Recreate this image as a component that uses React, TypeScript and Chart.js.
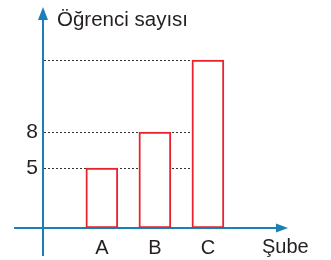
import React, { useEffect, useRef } from "react";
import { Chart, registerables } from "chart.js";

Chart.register(...registerables);

const categories = ["A", "B", "C"];
const counts = [5, 8, 14];
const yTickValues = [5, 8];
const xAxisTitle = "Şube";
const yAxisTitle = "Öğrenci sayısı";

const FONT = "'Liberation Sans', Arial, Helvetica, sans-serif";
const AXIS_COLOR = "#1b80b5";
const BAR_COLOR = "#e8232e";
const TEXT_COLOR = "#231f20";

const decorPlugin = {
  id: "decor",
  beforeDatasetsDraw(chart: any) {
    const { ctx, chartArea } = chart;
    const ys = chart.scales.y;
    const meta = chart.getDatasetMeta(0);
    const last: any = meta.data[meta.data.length - 1];
    const lastLeft = last.x - last.width / 2;
    ctx.save();
    // dotted guide lines
    ctx.strokeStyle = "#333333";
    ctx.lineWidth = 1;
    ctx.setLineDash([2, 2]);
    counts.forEach((v) => {
      const y = Math.round(ys.getPixelForValue(v)) + 0.5;
      ctx.beginPath();
      ctx.moveTo(chartArea.left + 1, y);
      ctx.lineTo(lastLeft, y);
      ctx.stroke();
    });
    ctx.setLineDash([]);
    // axes
    const ax = chartArea.left;
    const ay = chartArea.bottom;
    ctx.strokeStyle = AXIS_COLOR;
    ctx.fillStyle = AXIS_COLOR;
    ctx.lineWidth = 2;
    ctx.beginPath();
    ctx.moveTo(ax, ay + 28);
    ctx.lineTo(ax, chartArea.top - 4);
    ctx.stroke();
    ctx.beginPath();
    ctx.moveTo(ax, chartArea.top - 17);
    ctx.lineTo(ax - 5, chartArea.top - 4);
    ctx.lineTo(ax + 5, chartArea.top - 4);
    ctx.closePath();
    ctx.fill();
    ctx.beginPath();
    ctx.moveTo(ax - 29, ay);
    ctx.lineTo(chartArea.right - 12, ay);
    ctx.stroke();
    ctx.beginPath();
    ctx.moveTo(chartArea.right, ay);
    ctx.lineTo(chartArea.right - 12, ay - 4.5);
    ctx.lineTo(chartArea.right - 12, ay + 4.5);
    ctx.closePath();
    ctx.fill();
    // axis titles
    ctx.fillStyle = TEXT_COLOR;
    ctx.textBaseline = "alphabetic";
    ctx.textAlign = "left";
    ctx.font = `20.5px ${FONT}`;
    ctx.fillText(yAxisTitle, ax + 14, chartArea.top + 2);
    ctx.font = `20px ${FONT}`;
    ctx.fillText(xAxisTitle, chartArea.right - 26, ay + 25);
    ctx.restore();
  },
};

export default function App() {
  const ref = useRef<HTMLCanvasElement | null>(null);
  useEffect(() => {
    if (!ref.current) return;
    const chart = new Chart(ref.current, {
      type: "bar",
      data: {
        datasets: [
          {
            data: categories.map((c, i) => ({ x: i + 1, y: counts[i] })),
            backgroundColor: "#ffffff",
            borderColor: BAR_COLOR,
            borderWidth: 2,
            borderSkipped: false,
            barThickness: 32,
          },
        ],
      },
      options: {
        animation: false,
        responsive: true,
        maintainAspectRatio: false,
        layout: { padding: { top: 24, right: 43, left: 0, bottom: 0 } },
        plugins: { legend: { display: false }, tooltip: { enabled: false }, title: { display: false } },
        scales: {
          x: {
            type: "linear",
            offset: false,
            min: -0.11,
            max: 4.51,
            grid: { display: false, drawTicks: false, offset: false },
            border: { display: false },
            afterBuildTicks: (scale: any) => {
              scale.ticks = categories.map((_, i) => ({ value: i + 1 }));
            },
            afterFit: (scale: any) => {
              scale.height = 32;
            },
            ticks: {
              padding: 8,
              color: TEXT_COLOR,
              font: { family: FONT, size: 20 },
              maxRotation: 0,
              autoSkip: false,
              callback: (v: any) => categories[Math.round(v) - 1] ?? "",
            },
          },
          y: {
            min: 0,
            max: 17,
            grid: { display: false, drawTicks: false },
            border: { display: false },
            afterBuildTicks: (scale: any) => {
              scale.ticks = yTickValues.map((v) => ({ value: v }));
            },
            afterFit: (scale: any) => {
              scale.width = 43;
            },
            ticks: {
              padding: 5,
              color: TEXT_COLOR,
              font: { family: FONT, size: 21 },
              callback: (v: any) => String(v),
            },
          },
        },
      },
      plugins: [decorPlugin],
    });
    return () => chart.destroy();
  }, []);
  return (
    <div style={{ position: "fixed", left: 0, top: 0, width: 331, height: 260, background: "#fff" }}>
      <canvas ref={ref} />
    </div>
  );
}
